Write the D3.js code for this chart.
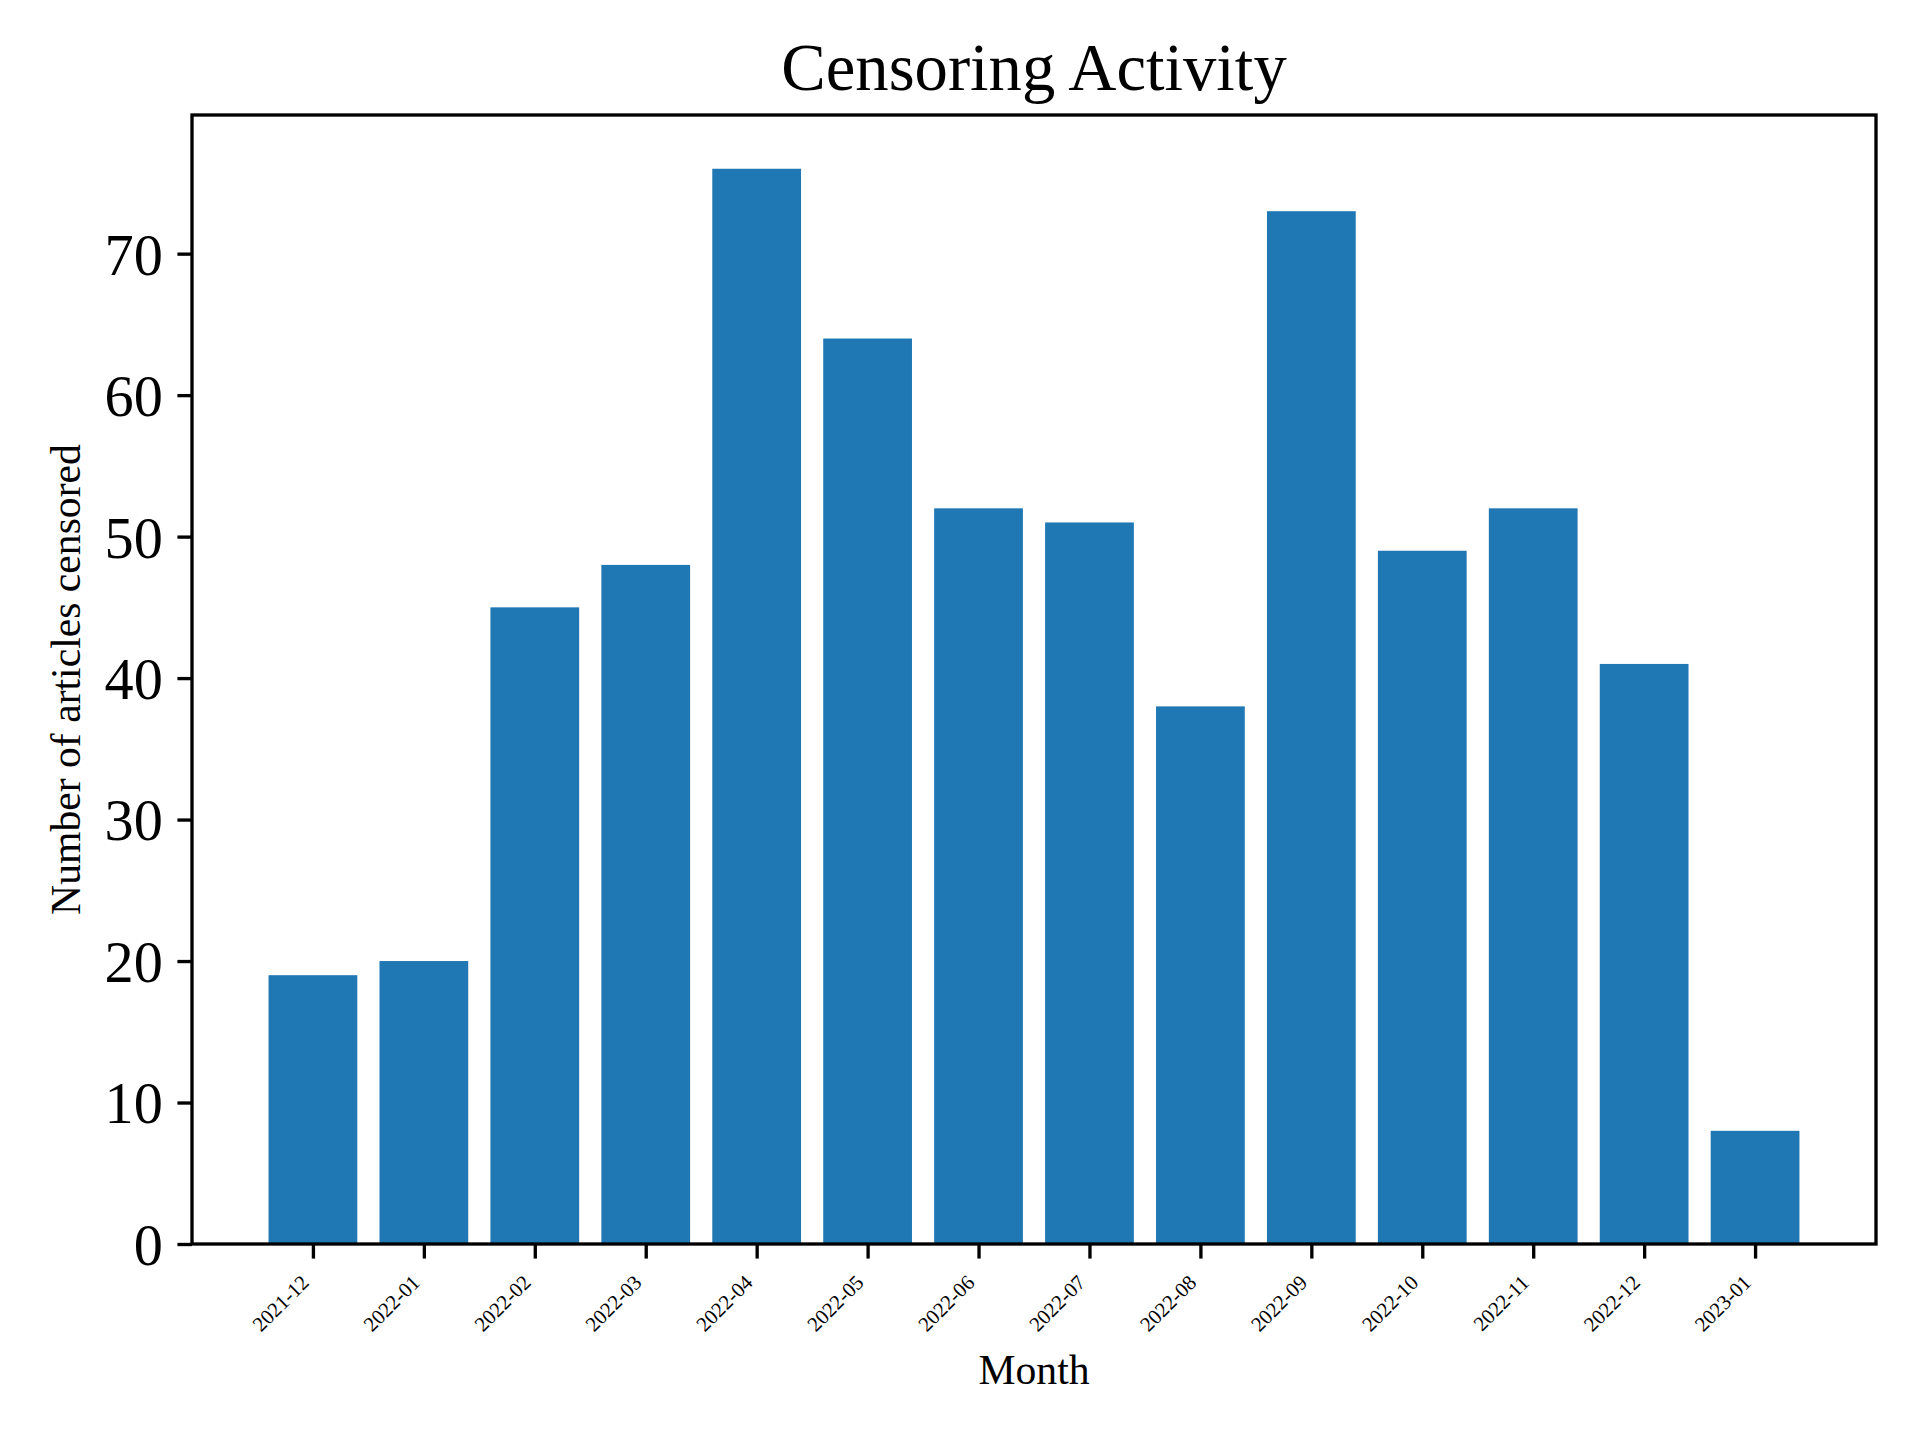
<!DOCTYPE html>
<html>
<head>
<meta charset="utf-8">
<script src="https://cdn.jsdelivr.net/npm/d3@7/dist/d3.min.js"></script>
<style>
  html, body { margin: 0; padding: 0; background: #fff; }
  svg { display: block; }
  text { font-family: "Liberation Serif", "Times New Roman", serif; fill: #000; }
</style>
</head>
<body>
<svg id="chart" width="1920" height="1440"></svg>
<script>
// ---- data ----
const months = ["2021-12","2022-01","2022-02","2022-03","2022-04","2022-05","2022-06",
                "2022-07","2022-08","2022-09","2022-10","2022-11","2022-12","2023-01"];
const counts = [19, 20, 45, 48, 76, 64, 52, 51, 38, 73, 49, 52, 41, 8];
const yTicks = [0, 10, 20, 30, 40, 50, 60, 70];
const titleText = "Censoring Activity";
const xLabelText = "Month";
const yLabelText = "Number of articles censored";

// ---- layout ----
const axL = 192, axR = 1876, axT = 115, axB = 1244;
const pt = 300 / 72;
const tickLen = 3.5 * pt, tickPad = 3.5 * pt, lw = 0.8 * pt;
const barWidth = 0.8;

const svg = d3.select("#chart");

const n = months.length;
const xmin = -barWidth / 2, xmax = n - 1 + barWidth / 2;
const xm = (xmax - xmin) * 0.05;
const x = d3.scaleLinear().domain([xmin - xm, xmax + xm]).range([axL, axR]);
const ymax = d3.max(counts) * 1.05;
const y = d3.scaleLinear().domain([0, ymax]).range([axB, axT]);

// bars
svg.append("g").selectAll("rect").data(counts).join("rect")
  .attr("x", (d, i) => x(i - barWidth / 2))
  .attr("width", (d, i) => x(i + barWidth / 2) - x(i - barWidth / 2))
  .attr("y", d => y(d))
  .attr("height", d => y(0) - y(d))
  .attr("fill", "#1f77b4");

// y axis
const yAxis = svg.append("g").attr("transform", `translate(${axL},0)`)
  .call(d3.axisLeft(y).tickValues(yTicks).tickFormat(d3.format("d"))
        .tickSize(tickLen).tickPadding(tickPad));
yAxis.select(".domain").remove();
yAxis.selectAll(".tick line").attr("stroke", "#000").attr("stroke-width", lw);
yAxis.selectAll(".tick text").attr("font-size", 14 * pt).attr("dy", "0.35em")
  .style("font-family", '"Liberation Serif", serif');

// x axis
const xAxis = svg.append("g").attr("transform", `translate(0,${axB})`)
  .call(d3.axisBottom(x).tickValues(d3.range(n)).tickFormat(i => months[i])
        .tickSize(tickLen).tickPadding(tickPad));
xAxis.select(".domain").remove();
xAxis.selectAll(".tick line").attr("stroke", "#000").attr("stroke-width", lw);
const xfs = 5 * pt;
xAxis.selectAll(".tick text")
  .attr("font-size", xfs)
  .style("font-family", '"Liberation Serif", serif')
  .attr("text-anchor", "end")
  .attr("dy", null)
  .attr("y", null)
  .attr("transform", `translate(${-0.707 * 0.22 * xfs},${tickLen + tickPad + 0.707 * 0.72 * xfs}) rotate(-45)`);

// spines
svg.append("rect")
  .attr("x", axL).attr("y", axT)
  .attr("width", axR - axL).attr("height", axB - axT)
  .attr("fill", "none").attr("stroke", "#000").attr("stroke-width", lw)
  .attr("stroke-linecap", "square");

// title
svg.append("text")
  .attr("x", (axL + axR) / 2).attr("y", axT - 6 * pt)
  .attr("text-anchor", "middle")
  .attr("font-size", 16 * pt)
  .text(titleText);

// x label
svg.append("text")
  .attr("x", (axL + axR) / 2).attr("y", 1384)
  .attr("text-anchor", "middle")
  .attr("font-size", 10 * pt)
  .text(xLabelText);

// y label
svg.append("text")
  .attr("transform", `translate(80,${(axT + axB) / 2}) rotate(-90)`)
  .attr("text-anchor", "middle")
  .attr("font-size", 10 * pt)
  .text(yLabelText);
</script>
</body>
</html>
